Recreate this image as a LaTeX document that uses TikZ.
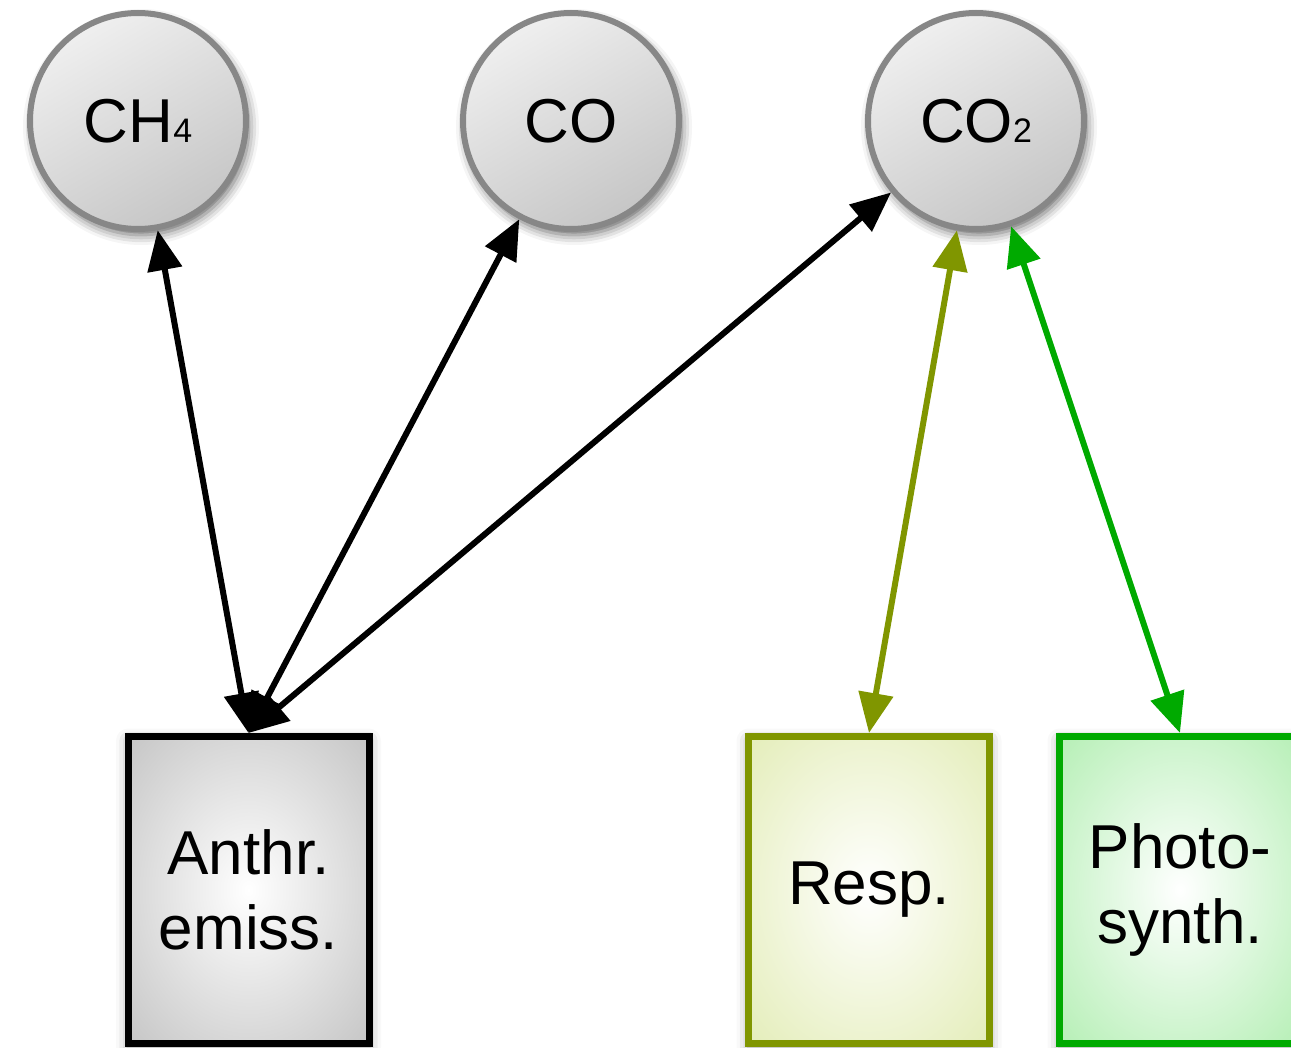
\documentclass[tikz,border=0pt]{standalone}
\usepackage{fontspec}
\setmainfont{Liberation Sans}
\usetikzlibrary{arrows.meta,shadows.blur}

\definecolor{gasline}{HTML}{878787}
\definecolor{gaslight}{HTML}{EFEFEF}
\definecolor{gasdark}{HTML}{C6C6C6}
\definecolor{respline}{HTML}{809600}
\definecolor{photoline}{HTML}{00AA00}
\definecolor{anthredge}{HTML}{B8B8B8}
\definecolor{respedge}{HTML}{DFEAAD}
\definecolor{photoedge}{HTML}{A8ECA8}

% radial glows for the source boxes: white centre fading to the box tint
\pgfdeclareradialshading{anthrglow}{\pgfpoint{0bp}{0bp}}{color(0bp)=(white); color(44bp)=(anthredge); color(80bp)=(anthredge)}
\pgfdeclareradialshading{respglow}{\pgfpoint{0bp}{0bp}}{color(0bp)=(white); color(42bp)=(respedge); color(80bp)=(respedge)}
\pgfdeclareradialshading{photoglow}{\pgfpoint{0bp}{0bp}}{color(0bp)=(white); color(42bp)=(photoedge); color(80bp)=(photoedge)}

\begin{document}
\begin{tikzpicture}[x=0.5pt,y=-0.5pt,
  gas/.style={circle, minimum size=108pt, inner sep=0pt, draw=gasline, line width=3pt,
    top color=gaslight, bottom color=gasdark, shading angle=30,
    blur shadow={shadow xshift=1.5pt, shadow yshift=-3pt, shadow blur radius=5pt, shadow opacity=60},
    font=\fontsize{31}{31}\selectfont},
  src/.style={rectangle, minimum width=120.5pt, minimum height=153.5pt, inner sep=0pt, line width=3.5pt,
    shade, align=center,
    blur shadow={shadow xshift=0pt, shadow yshift=-2pt, shadow blur radius=6pt, shadow opacity=40},
    font=\fontsize{31}{37.5}\selectfont},
  flow/.style={line width=3pt, {Triangle[length=20pt,width=17pt]}-{Triangle[length=20pt,width=17pt]}}
]
\newcommand\subtxt{\fontsize{17}{17}\selectfont}
\useasboundingbox (0,0) rectangle (1291,1048);

% gases
\node[gas] (ch4) at (138,121) {CH{\subtxt 4}};
\node[gas] (co)  at (571,121) {CO};
\node[gas] (co2) at (976,121) {CO{\subtxt 2}};

% sources and sinks
\node[src, shading=anthrglow, draw=black]      (anthr) at (248.5,890) {Anthr.\\emiss.};
\node[src, shading=respglow,  draw=respline]   (resp)  at (869,890)   {Resp.};
\node[src, shading=photoglow, draw=photoline]  (photo) at (1180,890)  {Photo-\\synth.};

% exchanges
\draw[flow] (anthr.north) -- (ch4);
\draw[flow] (anthr.north) -- (co);
\draw[flow] (anthr.north) -- (co2);
\draw[flow, draw=respline, fill=respline] (resp.north) -- (co2);
\draw[flow, draw=photoline, fill=photoline] (photo.north) -- (co2);
\end{tikzpicture}
\end{document}
